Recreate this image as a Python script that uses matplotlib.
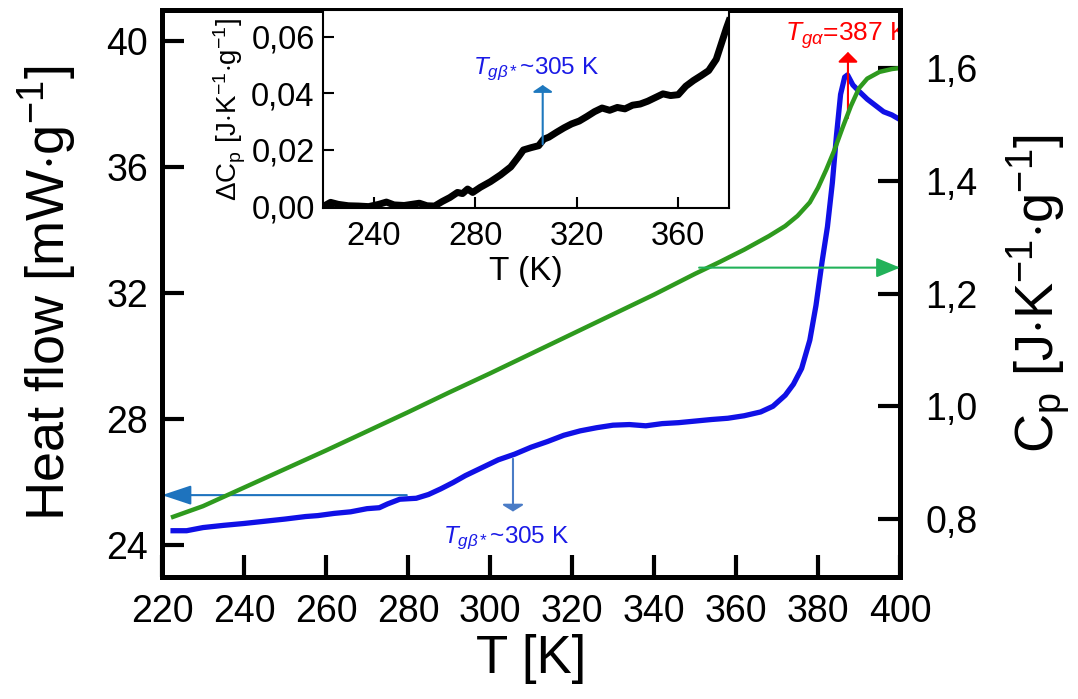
import matplotlib
matplotlib.use("Agg")
import matplotlib.pyplot as plt
from matplotlib.ticker import FuncFormatter

plt.rcParams['font.family'] = ['Liberation Sans', 'DejaVu Sans']
plt.rcParams['mathtext.fontset'] = 'custom'
plt.rcParams['mathtext.rm'] = 'Liberation Sans'
plt.rcParams['mathtext.it'] = 'Liberation Sans:italic'
plt.rcParams['mathtext.bf'] = 'Liberation Sans:bold'

# heat flow curve (left axis)
hf_T = [222.7, 226, 230, 235, 240, 245, 250, 255, 258, 262, 266, 270, 273, 275, 278,
        282, 285, 288, 291, 294, 298, 302, 306, 310, 314, 318, 322, 326, 330, 334,
        338, 342, 346, 350, 354, 358, 362, 366, 369, 372, 374, 376, 378, 379.5, 381,
        382.3, 383.5, 384.5, 385.5, 386.5, 387.2, 388.5, 390, 392, 394, 396, 398, 400]
hf = [24.45, 24.45, 24.55, 24.62, 24.68, 24.75, 24.82, 24.90, 24.93, 25.00, 25.05, 25.15, 25.18, 25.30, 25.45,
      25.48, 25.60, 25.78, 25.98, 26.20, 26.45, 26.70, 26.88, 27.10, 27.28, 27.48, 27.62, 27.72, 27.80, 27.82,
      27.78, 27.85, 27.88, 27.93, 27.98, 28.02, 28.10, 28.22, 28.40, 28.75, 29.10, 29.60, 30.50, 31.60, 33.00,
      34.10, 35.50, 37.00, 38.30, 38.85, 38.92, 38.60, 38.40, 38.15, 37.95, 37.75, 37.65, 37.50]

# heat capacity curve (right axis)
cp_T = [222.7, 230, 240, 250, 260, 270, 280, 290, 300, 310, 320, 330, 340, 350, 356,
        362, 368, 372, 375, 378, 380, 382, 384, 386, 388, 390, 392, 395, 398, 400]
cp = [0.803, 0.822, 0.855, 0.888, 0.921, 0.955, 0.989, 1.024, 1.058, 1.093, 1.128, 1.163, 1.198, 1.235, 1.256,
      1.278, 1.302, 1.320, 1.338, 1.362, 1.388, 1.420, 1.455, 1.495, 1.533, 1.565, 1.582, 1.594, 1.599, 1.601]

# inset: delta Cp
d_T = [221, 223, 226, 230, 234, 238, 242, 245, 248, 252, 255, 258, 261, 264, 267, 270, 273, 275, 277, 279,
       282, 286, 290, 294, 297, 299, 302, 305, 307, 309, 312, 315, 318, 321, 324, 327, 330, 333, 336, 339,
       342, 345, 348, 351, 354, 357, 360, 363, 366, 369, 372, 375, 377, 379, 380]
d_cp = [0.0005, 0.0015, 0.0008, 0.0003, 0.0002, 0.0, 0.0008, 0.0016, 0.0006, 0.0004, 0.0008, 0.0012, 0.0003,
        0.0002, 0.0018, 0.0032, 0.0050, 0.0046, 0.0062, 0.0050, 0.0068, 0.0088, 0.0112, 0.0140, 0.0175, 0.0200,
        0.0208, 0.0215, 0.0238, 0.0245, 0.0262, 0.0278, 0.0292, 0.0302, 0.0318, 0.0335, 0.0348, 0.0340, 0.0350,
        0.0345, 0.0358, 0.0362, 0.0372, 0.0385, 0.0398, 0.0392, 0.0395, 0.0425, 0.0445, 0.0462, 0.0480, 0.0520,
        0.0575, 0.0630, 0.0655]

x_ticks = [220, 240, 260, 280, 300, 320, 340, 360, 380, 400]
hf_ticks = [24, 28, 32, 36, 40]
cp_ticks = [0.8, 1.0, 1.2, 1.4, 1.6]
in_x_ticks = [240, 280, 320, 360]
in_y_ticks = [0.0, 0.02, 0.04, 0.06]

comma1 = FuncFormatter(lambda v, p: f'{v:.1f}'.replace('.', ','))
comma2 = FuncFormatter(lambda v, p: f'{v:.2f}'.replace('.', ','))

fig = plt.figure(figsize=(10.78, 6.99), dpi=100)
ax = fig.add_axes([0.1503, 0.1745, 0.6846, 0.8112])
ax2 = ax.twinx()

ax.plot(hf_T, hf, color='#1010e6', lw=3.8)
ax2.plot(cp_T, cp, color='#2e9a1e', lw=3.2)

ax.set_xlim(220, 400)
ax.set_ylim(22.98, 40.98)
ax2.set_ylim(0.696, 1.704)
ax.set_xticks(x_ticks)
ax.set_yticks(hf_ticks)
ax2.set_yticks(cp_ticks)
ax2.yaxis.set_major_formatter(comma1)

for a in (ax, ax2):
    for s in a.spines.values():
        s.set_linewidth(3.6)
ax.tick_params(axis='both', direction='in', length=16, width=3, labelsize=27)
ax.tick_params(axis='x', pad=12)
ax.tick_params(axis='y', pad=10)
ax2.tick_params(axis='y', direction='in', length=16, width=3, labelsize=27, pad=18)

ax.set_xlabel('T [K]', fontsize=38)
ax.set_ylabel(r'Heat flow [mW$\cdot$g$^{-1}$]', fontsize=39)
ax2.set_ylabel(r'C$_{\rm p}$ [J$\cdot$K$^{-1}$$\cdot$g$^{-1}$]', fontsize=39, rotation=90)
ax.yaxis.set_label_coords(-0.155, 0.5)
ax2.yaxis.set_label_coords(1.19, 0.5)
ax.xaxis.set_label_coords(0.5, -0.145)
ax.yaxis.label.set_va('center')
ax2.yaxis.label.set_va('center')
ax.xaxis.label.set_va('center')

# arrows and notes
ax.annotate('', xy=(220, 25.58), xytext=(279.7, 25.58),
            arrowprops=dict(arrowstyle='-|>,head_length=1.8,head_width=0.6', color='#1e73be',
                            lw=1.5, mutation_scale=10, shrinkA=0, shrinkB=0))
ax.annotate('', xy=(305.6, 25.06), xytext=(305.6, 26.73),
            arrowprops=dict(arrowstyle='-|>,head_length=0.4,head_width=0.65', color='#4a7cc6',
                            lw=1.5, mutation_scale=10, shrinkA=0, shrinkB=0))
ax.text(288.5, 24.05, r'$T_{g\beta*}$~305 K', color='#1a1ae6', fontsize=17.5, va='baseline')
ax.annotate('', xy=(387.3, 39.65), xytext=(387.3, 37.55),
            arrowprops=dict(arrowstyle='-|>,head_length=0.6,head_width=0.6', color='#ff0000',
                            lw=1.5, mutation_scale=10, shrinkA=0, shrinkB=0))
ax.text(371.9, 40.0, r'$T_{g\alpha}$=387 K', color='#ff0000', fontsize=19, va='baseline', clip_on=True)
ax2.annotate('', xy=(400, 1.246), xytext=(351, 1.246),
             arrowprops=dict(arrowstyle='-|>,head_length=1.45,head_width=0.6', color='#22b25a',
                             lw=1.5, mutation_scale=10, shrinkA=0, shrinkB=0))

# inset
ins = fig.add_axes([0.2996, 0.7024, 0.3766, 0.2833])
ins.plot(d_T, d_cp, color='black', lw=5)
ins.set_xlim(220, 380)
ins.set_ylim(-0.0005, 0.0694)
ins.set_xticks(in_x_ticks)
ins.set_yticks(in_y_ticks)
ins.yaxis.set_major_formatter(comma2)
for s in ins.spines.values():
    s.set_linewidth(1.5)
ins.tick_params(axis='both', direction='in', length=8, width=1.5, labelsize=23.5)
ins.tick_params(axis='x', pad=9)
ins.tick_params(axis='y', pad=6)
ins.tick_params(top=False, right=False)
ins.set_xlabel('T (K)', fontsize=24, labelpad=3)
ins.set_ylabel(r'$\Delta$C$_{\rm p}$ [J$\cdot$K$^{-1}$$\cdot$g$^{-1}$]', fontsize=20, labelpad=2)
ins.annotate('', xy=(306.6, 0.0429), xytext=(306.6, 0.022),
             arrowprops=dict(arrowstyle='-|>,head_length=0.4,head_width=0.6', color='#1e78be',
                             lw=1.5, mutation_scale=10, shrinkA=0, shrinkB=0))
ins.text(279, 0.0468, r'$T_{g\beta*}$~305 K', color='#1a1ae6', fontsize=17.5, va='baseline')

fig.savefig('out.png', dpi=100)
